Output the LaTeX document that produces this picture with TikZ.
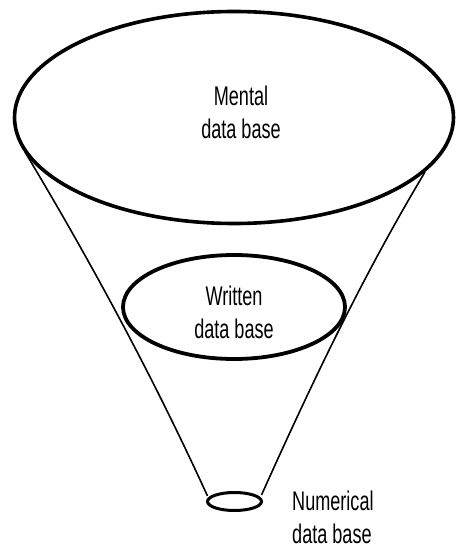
\documentclass[tikz,border=0pt]{standalone}
\usepackage{fontspec}
\setmainfont{Liberation Sans}
\newfontfamily\condfont[FakeStretch=0.67]{Liberation Sans}
\usetikzlibrary{shapes.geometric}
\begin{document}
\begin{tikzpicture}[x=1pt,y=-1pt,
  ell/.style={draw, ellipse, inner sep=0pt, outer sep=0pt, line width=#1},
  funnel/.style={line width=1.6pt},
  lbl/.style={font=\condfont\fontsize{27}{33}\selectfont, inner sep=0pt}]
\useasboundingbox (0,0) rectangle (456,548);
% ellipses
\node[ell=3.6pt, minimum width=439pt, minimum height=212pt] (mental) at (234,117.5) {};
\node[ell=3.8pt, minimum width=222pt, minimum height=104pt] (written) at (234,307) {};
\node[ell=3pt, minimum width=54pt, minimum height=18pt] (numerical) at (234.5,501.5) {};
% funnel end points
\coordinate (l1) at (25,152);
\coordinate (l2) at (207.5,496);
\coordinate (r1) at (425,172);
\coordinate (r2) at (261.5,495);
\draw[funnel] (l1) .. controls (94,267) and (155,381) .. (l2);
\draw[funnel] (r1) .. controls (361,279) and (310,387) .. (r2);
% labels
\node[lbl, align=center] (mtext) at (241,112) {Mental\\data base};
\node[lbl, align=center] (wtext) at (234,312) {Written\\data base};
\node[lbl, align=left, anchor=west] (ntext) at (292,517) {Numerical\\data base};
\end{tikzpicture}
\end{document}
